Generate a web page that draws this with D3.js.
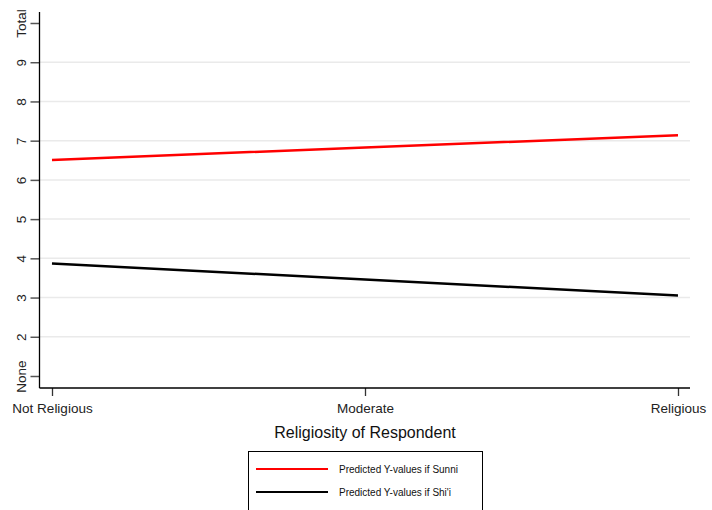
<!DOCTYPE html>
<html><head><meta charset="utf-8">
<script src="https://cdn.jsdelivr.net/npm/d3@7"></script>
<style>body{margin:0;background:#fff}svg{display:block}text{font-family:"Liberation Sans",Arial,sans-serif}</style>
</head><body>
<svg id="c" width="712" height="510"></svg>
<script>
const categories = ["Not Religious","Moderate","Religious"];
const sunni = [6.51, 6.825, 7.14];
const shia = [3.87, 3.46, 3.05];
const yTicks = [1,2,3,4,5,6,7,8,9,10];
const yTickLabels = ["None","2","3","4","5","6","7","8","9","Total"];
const gridValues = [2,3,4,5,6,7,8,9];
const seriesNames = ["Predicted Y-values if Sunni","Predicted Y-values if Shi'i"];
const seriesColors = ["#ff0000","#000000"];
const xTitle = "Religiosity of Respondent";

(function(){
const svg = d3.select("#c");
const L = 39.5, R = 690, T = 12, B = 388;
const x = d3.scalePoint().domain(categories).range([52, 678]);
const y = d3.scaleLinear().domain([1, 10]).range([376, 23]);

svg.append("g").selectAll("line").data(gridValues).join("line")
  .attr("x1", L).attr("x2", R)
  .attr("y1", d => y(d)).attr("y2", d => y(d))
  .attr("stroke", "#eaeaea").attr("stroke-width", 1.5);

const ya = svg.append("g").attr("transform", `translate(${L},0)`)
  .call(d3.axisLeft(y).tickValues(yTicks).tickFormat((d,i)=>yTickLabels[i]).tickSize(9).tickSizeOuter(0));
ya.select(".domain").remove();
ya.selectAll(".tick line").attr("stroke", "#555").attr("stroke-width", 1.5);
ya.selectAll(".tick text").attr("transform", "rotate(-90)").attr("x", 0).attr("y", -14)
  .attr("dy", 0).attr("text-anchor", "middle").style("font-size", "13.5px").attr("fill", "#222");
svg.append("line").attr("x1", L).attr("x2", L).attr("y1", T).attr("y2", B)
  .attr("stroke", "#000").attr("stroke-width", 1.3);

const xa = svg.append("g").attr("transform", `translate(0,${B})`)
  .call(d3.axisBottom(x).tickSize(8).tickSizeOuter(0));
xa.select(".domain").remove();
xa.selectAll(".tick line").attr("stroke", "#333").attr("stroke-width", 1.3);
xa.selectAll(".tick text").attr("y", 15).style("font-size", "13.5px").attr("fill", "#222");
svg.append("line").attr("x1", L).attr("x2", R).attr("y1", B).attr("y2", B)
  .attr("stroke", "#000").attr("stroke-width", 1.3);

svg.append("text").attr("x", 365).attr("y", 438).attr("text-anchor", "middle")
  .style("font-size", "16px").attr("fill", "#111").text(xTitle);

const line = d3.line().x((d,i)=>x(categories[i])).y(d=>y(d));
[sunni, shia].forEach((s,i)=>{
  svg.append("path").datum(s).attr("d", line).attr("fill","none")
    .attr("stroke", seriesColors[i]).attr("stroke-width", 2.5);
});

svg.append("rect").attr("x", 248.5).attr("y", 451.5).attr("width", 234).attr("height", 70)
  .attr("fill", "#fff").attr("stroke", "#000").attr("stroke-width", 1);
seriesNames.forEach((n,i)=>{
  const ly = 469 + i*23;
  svg.append("line").attr("x1", 256).attr("x2", 328).attr("y1", ly).attr("y2", ly)
    .attr("stroke", seriesColors[i]).attr("stroke-width", 1.8);
  svg.append("text").attr("x", 339).attr("y", ly + 3.5).style("font-size", "10px")
    .attr("fill", "#111").text(n);
});
})();
</script>
</body></html>
